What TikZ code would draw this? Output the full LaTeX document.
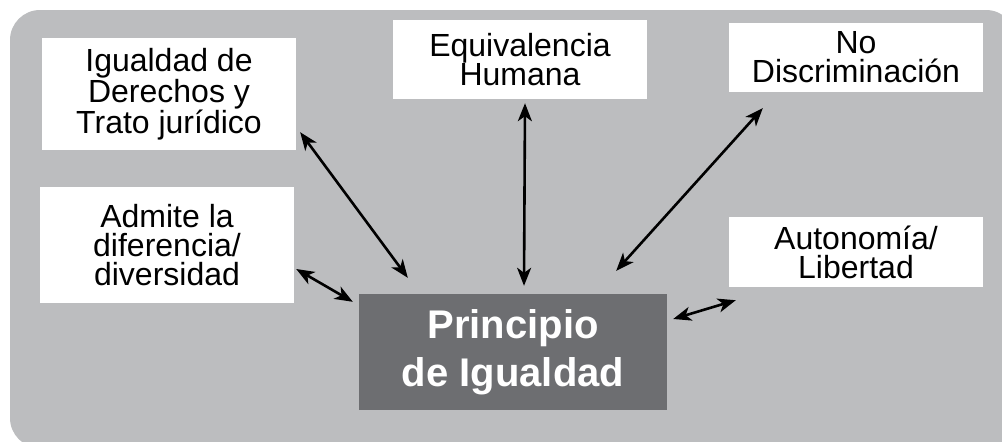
\documentclass[tikz,border=0pt]{standalone}
\usepackage{fontspec}
\setmainfont{Liberation Sans}
\usetikzlibrary{arrows.meta, positioning}
\definecolor{fondo}{HTML}{BCBDBF}
\definecolor{central}{HTML}{6D6E71}
\tikzset{
    x=1pt,
    y=-1pt,
    caja/.style={fill=white, align=center, inner sep=0pt,
        minimum width=254pt, font=\fontsize{32}{29}\selectfont},
    principal/.style={fill=central, text=white, align=center, inner sep=0pt,
        minimum width=308pt, minimum height=116pt,
        font=\bfseries\fontsize{40}{48}\selectfont},
    flecha/.style={{Stealth[length=18pt,width=14pt,inset=5pt]}-{Stealth[length=18pt,width=14pt,inset=5pt]},
        line width=2.6pt},
}

\begin{document}
\begin{tikzpicture}
    \useasboundingbox (0,0) rectangle (1002,442);
    \fill[fondo, rounded corners=30pt] (10,10) rectangle (1016,448);

        \node[principal] (pi) at (513,352) {Principio\\de Igualdad};
        \node[caja, minimum height=112pt] (igualdad) at (169,94) {Igualdad de\\Derechos y\\Trato jurídico};
        \node[caja, minimum height=79pt] (equiv) at (520,59.5) {Equivalencia\\Humana};
        \node[caja, minimum height=69pt] (nodisc) at (856,57.5) {No\\Discriminación};
        \node[caja, minimum height=116pt] (admite) at (167,245) {Admite la\\diferencia/\\diversidad};
        \node[caja, minimum height=70pt] (autonomia) at (856,252) {Autonomía/\\Libertad};

    \draw[flecha] ([shift={(4,-18)}]igualdad.south east) -- ([shift={(49,-16)}]pi.north west);
    \draw[flecha] ([shift={(5,4)}]equiv.south) -- ([shift={(11,-8)}]pi.north);
    \draw[flecha] ([shift={(34,16)}]nodisc.south west) -- ([shift={(-51,-23)}]pi.north east);
    \draw[flecha] ([shift={(2,24)}]admite.east) -- ([shift={(-6,8)}]pi.north west);
    \draw[flecha] ([shift={(6,-33)}]pi.east) -- ([shift={(7,13)}]autonomia.south west);
\end{tikzpicture}
\end{document}
